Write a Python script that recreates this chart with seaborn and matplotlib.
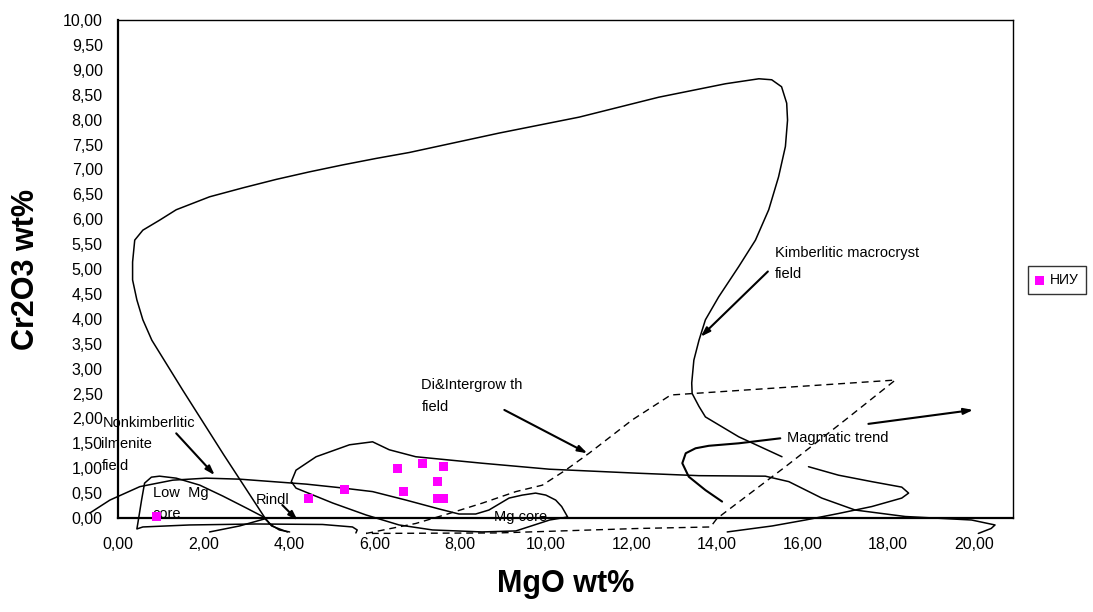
import numpy as np
import matplotlib.pyplot as plt
import seaborn as sns

# ---- data -----------------------------------------------------------------
# sample points (MgO wt%, Cr2O3 wt%)
niu_mgo = [0.89, 4.46, 5.29, 6.53, 6.67, 7.12, 7.47, 7.60, 7.47, 7.61]
niu_cr2o3 = [0.04, 0.40, 0.57, 1.00, 0.54, 1.09, 0.74, 1.03, 0.40, 0.40]

# kimberlitic macrocryst field outline (open curve, broken under the text box)
kimb_x = [3.96, 3.59, 3.42, 2.47, 1.51, 0.79, 0.58, 0.44, 0.34, 0.34, 0.39, 0.58,
          0.97, 1.36, 2.14, 2.92, 3.70, 4.47, 5.25, 6.03, 6.81, 8.91, 10.78, 12.64,
          14.20, 14.98, 15.28, 15.51, 15.63, 15.65, 15.60, 15.44, 15.21, 14.90,
          14.51, 14.04, 13.73, 13.58, 13.46, 13.41, 13.42, 13.58, 13.73, 14.51, 15.52]
kimb_y = [-0.28, -0.16, 0.02, 1.27, 2.57, 3.57, 3.98, 4.38, 4.78, 5.14, 5.58, 5.78,
          5.98, 6.19, 6.45, 6.63, 6.80, 6.95, 7.09, 7.22, 7.34, 7.73, 8.05, 8.45,
          8.72, 8.82, 8.80, 8.66, 8.33, 7.99, 7.46, 6.85, 6.19, 5.58, 5.05, 4.44,
          3.98, 3.57, 3.17, 2.71, 2.50, 2.24, 2.03, 1.63, 1.23]
kimb_tail_x = [16.14, 16.84, 17.62, 18.32, 18.48, 18.32, 17.62, 16.84, 16.07, 15.29, 14.24]
kimb_tail_y = [1.03, 0.86, 0.73, 0.62, 0.50, 0.40, 0.23, 0.09, -0.04, -0.16, -0.28]

# short hook below the axis near 3 wt% MgO
hook_x = [2.14, 2.84, 3.42]
hook_y = [-0.28, -0.16, -0.02]

# nonkimberlitic / Mg core / intergrowth outline (one long freeform)
long_x = [-0.66, -0.19, 0.51, 1.28, 2.06, 2.84, 3.62, 4.40, 5.17, 5.95, 6.73, 7.51,
          7.97, 8.36, 8.67, 9.14, 9.45, 9.76, 10.00, 10.23, 10.37, 10.51, 10.09,
          9.30, 8.51, 7.35, 6.57, 5.80, 5.02, 4.16, 4.05, 4.16, 4.63, 5.41, 5.95,
          6.34, 6.96, 8.51, 10.08, 12.13, 13.58, 15.13, 15.68, 16.45, 17.23, 18.40,
          19.95, 20.50, 20.41, 20.11]
long_y = [0.10, 0.36, 0.63, 0.76, 0.80, 0.78, 0.73, 0.68, 0.61, 0.53, 0.36, 0.18,
          0.08, 0.08, 0.16, 0.40, 0.46, 0.50, 0.46, 0.36, 0.23, 0.02, -0.04,
          -0.26, -0.28, -0.24, -0.14, 0.06, 0.30, 0.60, 0.73, 0.96, 1.23, 1.47, 1.53,
          1.37, 1.23, 1.10, 0.98, 0.90, 0.85, 0.84, 0.73, 0.40, 0.16, 0.03,
          -0.04, -0.14, -0.21, -0.31]

# low Mg core outline
lowmg_x = [5.56, 5.59, 5.48, 4.78, 3.23, 1.67, 0.58, 0.44, 0.46, 0.55, 0.62, 0.78,
           0.97, 1.36, 1.91, 2.45, 3.00, 3.38, 3.58, 3.77, 4.01]
lowmg_y = [-0.30, -0.24, -0.18, -0.13, -0.12, -0.14, -0.18, -0.22, -0.12, 0.36, 0.70,
           0.82, 0.84, 0.80, 0.66, 0.44, 0.20, 0.03, -0.14, -0.24, -0.28]

# magmatic trend curve
magm_x = [14.12, 13.73, 13.34, 13.19, 13.27, 13.50, 13.81, 14.51, 15.48]
magm_y = [0.33, 0.56, 0.83, 1.10, 1.30, 1.40, 1.45, 1.50, 1.60]

# Di & intergrowth field (dashed)
di_x = [5.80, 6.96, 7.74, 8.52, 9.30, 9.92, 10.46, 11.01, 12.02, 12.92, 18.17,
        17.00, 15.60, 14.00, 13.85, 12.18, 8.88, 5.80]
di_y = [-0.31, -0.11, 0.09, 0.30, 0.53, 0.66, 0.96, 1.30, 1.97, 2.47, 2.77,
        1.97, 1.03, -0.01, -0.18, -0.21, -0.30, -0.31]

# annotation arrows: (tail x, tail y, head x, head y)
arrows = [
    (1.36, 1.70, 2.26, 0.86),     # Nonkimberlitic
    (3.84, 0.26, 4.20, -0.05),    # Rindl
    (9.03, 2.17, 10.97, 1.30),    # Di&Intergrowth
    (15.19, 4.95, 13.62, 3.64),   # Kimberlitic macrocryst
    (17.54, 1.89, 19.99, 2.17),   # Magmatic trend
]

# field labels: (text, left x, centre y)
labels = [
    ("Nonkimberlitic", -0.36, 1.90),
    ("ilmenite", -0.39, 1.48),
    ("field", -0.39, 1.04),
    ("Low  Mg", 0.81, 0.50),
    ("core", 0.81, 0.08),
    ("Rindl", 3.23, 0.36),
    ("Mg core", 8.79, 0.01),
    ("Di&Intergrow th", 7.09, 2.67),
    ("field", 7.09, 2.23),
    ("Kimberlitic macrocryst", 15.35, 5.32),
    ("field", 15.35, 4.89),
    ("Magmatic trend", 15.63, 1.61),
]

x_ticks = [0, 2, 4, 6, 8, 10, 12, 14, 16, 18, 20]
y_ticks = [0, 0.5, 1, 1.5, 2, 2.5, 3, 3.5, 4, 4.5, 5, 5.5, 6, 6.5, 7, 7.5, 8,
           8.5, 9, 9.5, 10]


def comma(v):
    return f"{v:.2f}".replace(".", ",")


# ---- plot ------------------------------------------------------------------
sns.set_style("white")
plt.rcParams["font.family"] = ["Liberation Sans", "DejaVu Sans"]
plt.rcParams["text.color"] = "black"
plt.rcParams["axes.labelcolor"] = "black"

fig = plt.figure(figsize=(10.93, 6.12), dpi=100)
ax = fig.add_axes([0.108, 0.1536, 0.8188, 0.8137])

line_kw = dict(color="black", linewidth=1.1, sort=False, estimator=None,
               clip_on=False, ax=ax)
sns.lineplot(x=kimb_x, y=kimb_y, **line_kw)
sns.lineplot(x=kimb_tail_x, y=kimb_tail_y, **line_kw)
sns.lineplot(x=hook_x, y=hook_y, **line_kw)
sns.lineplot(x=long_x, y=long_y, **line_kw)
sns.lineplot(x=lowmg_x, y=lowmg_y, **line_kw)
sns.lineplot(x=magm_x, y=magm_y, color="black", linewidth=1.5, sort=False,
             estimator=None, clip_on=False, ax=ax)
sns.lineplot(x=di_x, y=di_y, color="black", linewidth=1.0, sort=False,
             estimator=None, clip_on=False, ax=ax, dashes=False,
             linestyle=(0, (5, 3.5)))

for x0, y0, x1, y1 in arrows:
    ax.annotate("", xy=(x1, y1), xytext=(x0, y0),
                arrowprops=dict(arrowstyle="-|>,head_length=0.55,head_width=0.18",
                                color="black", lw=1.5, shrinkA=0, shrinkB=0),
                annotation_clip=False)

for txt, tx, ty in labels:
    ax.text(tx, ty, txt, fontsize=10.5, ha="left", va="center", color="black",
            clip_on=False)

sns.scatterplot(x=niu_mgo, y=niu_cr2o3, marker="s", color="#FF00FF", s=42,
                edgecolor="none", label="НИУ", ax=ax, clip_on=False, zorder=3)

ax.set_xlim(0, 20.92)
ax.set_ylim(0, 10)
ax.set_xticks(x_ticks, [comma(v) for v in x_ticks])
ax.set_yticks(y_ticks, [comma(v) for v in y_ticks])
ax.tick_params(axis="both", direction="out", length=5, width=1, color="black",
               labelsize=11.5, labelcolor="black")
ax.tick_params(axis="x", pad=9)
ax.tick_params(axis="y", pad=6)
for side, spine in ax.spines.items():
    spine.set_color("black")
    spine.set_linewidth(1.6 if side in ("left", "bottom") else 1.0)

ax.set_xlabel("MgO wt%", fontsize=22, fontweight="bold", labelpad=12, color="black")
ax.set_ylabel("Cr2O3 wt%", fontsize=22, fontweight="bold", labelpad=16, color="black")

leg = ax.legend(loc="center left", bbox_to_anchor=(1028 / 1093, 1 - 280 / 612),
                bbox_transform=fig.transFigure, frameon=True, fancybox=False,
                edgecolor="black", fontsize=10, handlelength=0.6, handletextpad=0.5,
                borderpad=0.5, markerscale=1.0, borderaxespad=0)
leg.get_frame().set_linewidth(1.0)
for t in leg.get_texts():
    t.set_color("black")

plt.savefig("out.png", dpi=100)
print("saved out.png")
